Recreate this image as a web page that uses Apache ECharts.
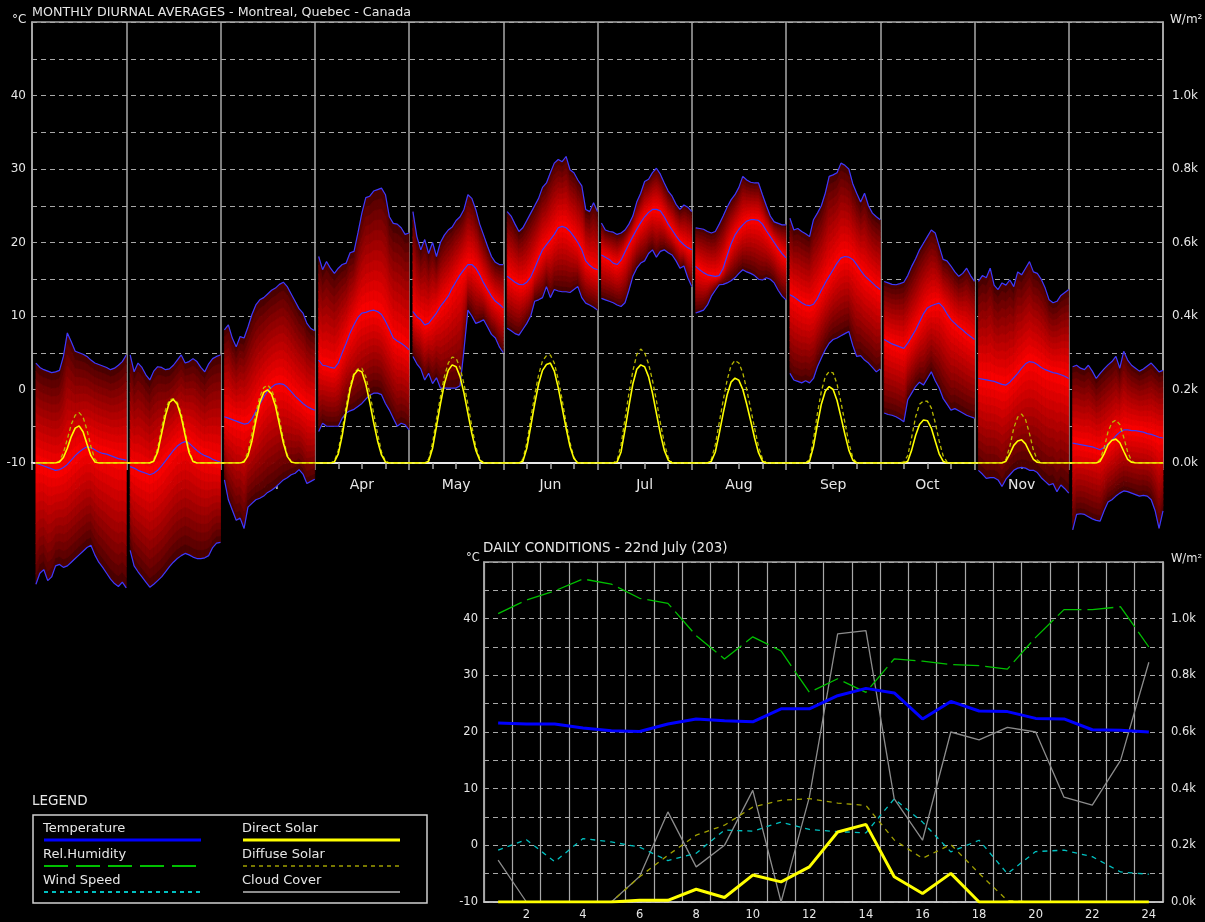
<!DOCTYPE html>
<html lang="en">
<head>
<meta charset="utf-8"/>
<title>Monthly diurnal averages - Montreal</title>
<script src="https://cdn.jsdelivr.net/npm/echarts@6/dist/echarts.min.js"></script>
<style>
    html, body { margin: 0; padding: 0; background: #000; }
    #chart { width: 1205px; height: 922px; }
</style>
</head>
<body>
<div id="chart"></div>
<script type="text/javascript">
    // monthly diurnal averages, hour 1..24 for each month (deg C)
    var monthNames = ['Jan', 'Feb', 'Mar', 'Apr', 'May', 'Jun', 'Jul', 'Aug', 'Sep', 'Oct', 'Nov', 'Dec'];

    var tempAvg = [
        [-10.0,-10.2,-10.4,-10.6,-10.8,-11.0,-10.9,-10.6,-10.2,-9.6,-9.0,-8.5,-8.1,-7.8,-7.9,-8.2,-8.5,-8.7,-8.8,-9.0,-9.2,-9.4,-9.5,-9.6],
        [-10.5,-10.7,-11.0,-11.2,-11.4,-11.6,-11.4,-11.0,-10.4,-9.7,-9.0,-8.3,-7.7,-7.3,-7.1,-7.3,-7.8,-8.3,-8.7,-9.0,-9.2,-9.5,-9.7,-9.9],
        [-3.7,-3.9,-4.1,-4.3,-4.5,-4.7,-4.6,-4.0,-3.0,-2.0,-1.0,-0.2,0.3,0.7,0.8,0.7,0.3,-0.3,-0.9,-1.4,-1.9,-2.3,-2.6,-2.8],
        [4.0,3.3,3.2,3.0,2.9,3.6,5.0,6.3,7.7,8.8,9.8,10.4,10.5,10.7,10.8,10.6,10.2,9.3,8.2,7.0,6.6,6.3,5.9,5.4],
        [10.6,9.9,9.5,8.8,9.0,9.7,10.4,11.3,12.0,12.7,13.8,14.7,15.6,16.3,17.0,17.0,16.5,15.6,14.5,13.6,12.7,12.0,11.6,11.1],
        [15.4,15.0,14.6,14.3,14.25,14.6,15.3,16.5,17.8,19.0,19.7,20.4,21.1,22.0,22.2,22.0,21.5,20.8,20.0,19.0,17.5,16.9,16.5,16.3],
        [18.3,18.0,17.7,17.2,17.0,17.6,18.7,19.8,20.8,21.8,22.7,23.5,24.1,24.5,24.5,24.3,23.5,22.5,21.7,20.9,20.2,19.7,19.3,19.0],
        [16.75,16.3,15.9,15.6,15.5,15.4,15.5,16.5,18.2,19.8,21.0,21.8,22.4,22.9,23.1,23.1,23.0,22.5,21.6,20.8,20.0,19.2,18.5,17.9],
        [12.9,12.6,12.2,11.8,11.5,11.4,11.6,12.4,13.5,14.5,15.4,16.3,17.2,17.9,18.1,18.0,17.7,17.0,16.2,15.5,15.0,14.5,14.0,13.6],
        [6.8,6.5,6.2,6.0,5.8,5.6,6.3,7.2,8.1,9.2,10.3,11.1,11.4,11.6,11.75,11.2,10.3,9.5,9.0,8.5,8.1,7.6,7.2,6.8],
        [1.5,1.4,1.3,1.2,1.1,0.9,0.7,0.6,1.0,1.6,2.2,2.9,3.5,3.8,3.7,3.4,3.0,2.7,2.5,2.3,2.2,2.0,1.8,1.5],
        [-7.3,-7.4,-7.5,-7.6,-7.7,-7.8,-8.0,-8.2,-7.9,-7.4,-6.9,-6.3,-5.8,-5.5,-5.5,-5.6,-5.6,-5.7,-5.8,-6.0,-6.1,-6.3,-6.5,-6.6]
    ];

    var tempMax = [
        [3.6,3.0,2.7,2.5,2.3,2.4,2.6,4.5,7.7,6.5,5.2,5.0,4.8,4.5,4.0,3.6,3.4,3.2,3.0,2.7,2.9,3.3,3.8,4.7],
        [4.7,2.4,3.6,3.0,2.0,1.3,2.5,3.1,3.0,2.7,2.8,3.3,4.0,4.7,3.6,3.8,4.2,3.8,3.0,2.4,3.5,4.2,4.5,4.7],
        [8.1,8.8,7.0,5.8,7.2,7.0,8.5,10.2,11.5,12.2,12.5,13.0,13.5,13.8,14.3,14.6,14.0,13.0,12.0,11.0,10.4,9.0,8.3,8.0],
        [18.1,16.3,17.4,16.5,15.8,16.5,17.0,17.2,18.6,18.8,21.3,24.0,26.1,26.3,27.0,27.2,27.4,26.5,23.5,22.6,22.5,22.0,21.1,21.3],
        [24.2,20.8,19.0,20.4,18.5,20.0,18.1,20.0,21.0,21.7,22.1,23.0,23.5,24.5,26.5,26.0,24.5,22.5,21.0,19.5,18.1,17.3,17.0,17.0],
        [24.2,23.6,22.5,21.5,22.0,23.0,24.0,25.0,26.0,27.5,28.1,29.5,30.8,31.3,31.0,31.7,29.9,29.5,28.5,27.7,24.5,24.2,25.4,24.2],
        [22.65,21.7,21.5,21.4,21.1,21.3,21.7,22.5,23.6,25.5,26.7,28.3,28.6,29.5,30.1,29.3,28.1,27.0,26.3,25.2,24.5,25.1,24.8,24.2],
        [22.0,21.9,21.8,21.5,21.3,21.5,22.5,23.6,24.8,25.8,26.5,27.5,29.0,28.5,28.2,28.1,28.1,26.5,25.0,23.6,22.8,22.6,22.4,22.4],
        [23.3,21.7,21.9,21.5,21.2,20.8,23.1,24.0,25.0,26.7,29.0,29.2,29.5,30.8,30.5,30.0,28.0,26.7,25.5,26.7,25.0,24.0,23.5,23.1],
        [14.7,14.5,14.3,14.25,14.4,14.6,15.5,16.75,17.8,19.0,19.9,20.8,21.7,21.3,19.5,17.7,17.5,16.8,16.0,15.4,15.8,16.5,15.5,14.7],
        [14.7,15.5,15.2,16.5,14.2,13.6,14.5,14.2,14.9,14.0,16.0,15.6,16.5,17.4,16.0,15.8,15.0,13.8,12.2,11.8,12.0,12.8,13.2,13.6],
        [3.1,3.3,2.9,2.7,3.3,2.5,1.5,2.2,2.8,3.35,3.8,4.5,2.9,5.2,4.0,3.3,2.9,2.5,2.8,3.2,3.6,3.0,2.4,2.6]
    ];

    var tempMin = [
        [-26.5,-25.0,-24.5,-26.0,-25.5,-24.0,-23.8,-24.2,-24.0,-23.5,-23.0,-22.5,-22.0,-21.5,-21.2,-22.5,-23.5,-24.2,-25.0,-25.8,-26.4,-26.8,-26.2,-27.0],
        [-21.9,-24.0,-24.8,-25.5,-26.2,-26.9,-26.5,-26.0,-25.5,-24.8,-24.1,-23.5,-23.0,-22.6,-22.3,-22.5,-22.8,-23.0,-23.0,-22.9,-22.6,-21.5,-20.9,-20.8],
        [-12.3,-15.0,-16.4,-17.8,-17.5,-18.9,-16.0,-15.5,-15.0,-14.8,-14.5,-14.0,-13.7,-13.3,-12.8,-12.3,-12.0,-11.6,-11.4,-10.9,-11.5,-12.8,-12.5,-12.2],
        [-5.7,-4.6,-5.0,-5.0,-5.0,-5.0,-3.9,-3.2,-2.9,-2.7,-2.3,-1.9,-1.3,-0.8,-0.5,-0.5,-0.7,-1.9,-2.8,-3.9,-5.0,-4.6,-4.8,-5.5],
        [4.5,3.5,2.8,1.3,2.2,0.8,1.6,0.2,0.2,0.2,0.2,0.2,0.5,5.4,10.8,10.0,9.0,9.2,9.5,8.5,7.5,7.0,5.8,5.0],
        [8.35,8.0,7.6,7.4,8.2,9.0,10.0,12.0,12.2,12.5,14.0,12.5,13.6,13.4,13.3,13.3,13.2,13.6,14.0,12.5,11.75,11.5,11.2,10.8],
        [12.4,12.2,12.0,11.8,11.5,11.3,11.8,13.5,15.4,16.5,17.2,17.5,18.5,19.0,18.0,18.8,19.0,18.6,18.3,17.5,16.5,16.8,15.2,14.0],
        [10.4,10.6,10.8,11.5,12.7,13.5,14.25,14.3,14.5,14.8,15.2,15.8,16.3,16.0,15.8,15.5,15.0,14.9,15.2,15.0,14.5,13.5,12.7,12.2],
        [2.2,1.3,1.1,0.9,1.2,0.9,1.5,3.1,4.3,5.4,6.3,6.8,7.0,7.3,7.6,7.9,6.0,4.5,4.6,4.0,3.6,3.0,2.4,2.8],
        [-3.2,-3.4,-3.5,-3.7,-4.0,-4.4,-1.4,-0.5,0.4,1.0,0.6,1.5,2.4,1.2,0.2,-1.2,-2.0,-2.8,-2.6,-2.9,-3.2,-3.5,-3.7,-3.9],
        [-11.0,-11.5,-12.1,-12.0,-12.0,-12.3,-13.2,-12.2,-11.6,-11.0,-10.7,-10.6,-10.7,-11.0,-11.0,-11.3,-12.0,-12.5,-13.0,-12.8,-13.9,-13.0,-13.5,-14.1],
        [-19.1,-17.0,-16.9,-17.0,-17.3,-17.6,-17.8,-17.9,-16.5,-15.3,-15.0,-14.5,-14.1,-13.8,-13.9,-14.1,-14.3,-14.5,-14.4,-14.5,-15.0,-16.5,-18.9,-16.5]
    ];

    // W/m2
    var solarDirect = [
        [0,0,0,0,0,0,3,15,40,72,95,101,85,52,20,3,0,0,0,0,0,0,0,0],
        [0,0,0,0,0,0,5,30,80,130,165,173,160,125,75,28,4,0,0,0,0,0,0,0],
        [0,0,0,0,0,3,20,60,115,165,192,199,188,155,105,55,18,3,0,0,0,0,0,0],
        [0,0,0,0,3,25,75,140,200,240,253,248,215,165,110,60,22,3,0,0,0,0,0,0],
        [0,0,0,0,5,40,100,160,215,252,267,262,235,190,135,80,35,8,0,0,0,0,0,0],
        [0,0,0,0,5,40,100,160,215,252,268,272,250,205,150,95,45,12,0,0,0,0,0,0],
        [0,0,0,0,3,30,90,155,215,255,267,262,235,190,135,80,35,8,0,0,0,0,0,0],
        [0,0,0,0,5,30,80,135,185,220,231,225,200,160,115,68,28,5,0,0,0,0,0,0],
        [0,0,0,0,0,5,45,105,160,195,208,200,170,125,78,35,8,0,0,0,0,0,0,0],
        [0,0,0,0,0,0,5,35,75,105,117,115,95,60,25,5,0,0,0,0,0,0,0,0],
        [0,0,0,0,0,0,0,5,25,48,60,63,52,30,10,2,0,0,0,0,0,0,0,0],
        [0,0,0,0,0,0,0,5,25,50,62,65,55,32,10,2,0,0,0,0,0,0,0,0]
    ];
    var solarDiffuse = [
        [0,0,0,0,0,0,5,28,65,105,130,137,125,90,45,10,0,0,0,0,0,0,0,0],
        [0,0,0,0,0,0,8,40,95,145,172,175,165,135,85,35,6,0,0,0,0,0,0,0],
        [0,0,0,0,0,5,30,80,135,180,205,212,200,170,120,65,22,4,0,0,0,0,0,0],
        [0,0,0,0,5,35,90,155,210,245,256,258,235,190,135,80,30,5,0,0,0,0,0,0],
        [0,0,0,0,10,55,120,180,235,272,288,285,260,215,160,100,45,12,0,0,0,0,0,0],
        [0,0,0,0,10,55,120,185,240,278,292,294,272,228,172,110,55,15,0,0,0,0,0,0],
        [0,0,0,0,8,50,120,190,250,295,310,300,270,225,170,110,55,15,0,0,0,0,0,0],
        [0,0,0,0,10,50,110,170,225,265,279,272,245,200,148,95,45,12,0,0,0,0,0,0],
        [0,0,0,0,0,10,65,135,195,235,249,245,215,165,110,55,15,0,0,0,0,0,0,0],
        [0,0,0,0,0,3,20,70,125,160,169,168,150,110,60,20,3,0,0,0,0,0,0,0],
        [0,0,0,0,0,0,0,10,45,95,125,133,118,80,35,8,0,0,0,0,0,0,0,0],
        [0,0,0,0,0,0,0,10,40,85,110,117,105,70,30,6,0,0,0,0,0,0,0,0]
    ];

    // daily conditions, 22nd July
    var dayHours = ['1','2','3','4','5','6','7','8','9','10','11','12','13','14','15','16','17','18','19','20','21','22','23','24'];
    var dayTemp = [21.6,21.4,21.4,20.7,20.2,20.1,21.4,22.3,22.0,21.8,24.1,24.1,26.4,27.7,26.9,22.3,25.4,23.7,23.6,22.4,22.3,20.4,20.3,20.0];
    var dayHumidity = [40.9,43.3,44.9,47.0,46.1,43.6,42.7,37.0,32.9,36.8,34.3,27.0,29.4,27.0,32.9,32.5,31.9,31.7,31.1,36.7,41.6,41.6,42.1,35.0];
    var dayWind = [-0.85,1.0,-2.9,1.2,0.6,-0.3,-2.7,-1.4,2.7,2.5,4.1,2.8,2.4,2.2,8.2,4.1,-1.15,0.9,-5.0,-1.1,-0.85,-2.0,-4.7,-5.1];
    var dayCloud = [-2.6,-10,-10,-10,-10,-5.5,5.9,-3.8,0.0,9.7,-10,8.5,37.3,37.9,8.2,0.9,20.0,18.6,20.8,20.0,8.5,7.1,15.0,32.3];
    var dayDirect = [0,0,0,0,0,6,6,45,16,95,71,124,247,274,89,30,101,0,0,0,0,0,0,0];
    var dayDiffuse = [0,0,0,0,0,89,165,236,271,335,359,365,349,341,219,154,203,101,5,0,0,0,0,0];

    var TXT = '#e6e6e6';
    var GRID_LINE = '#a8a8a8';
    var FONT = 'DejaVu Sans';

    // shades of red from the min/max edge towards the mean
    var STEPS = 12;
    var SHADES = [];
    for (var k = 0; k < STEPS; k++) {
        var f = (k + 0.5) / STEPS;
        SHADES.push('rgb(' + Math.round(62 + 193 * Math.pow(f, 0.85)) + ',0,0)');
    }

    // one item per hour segment: [x0, x1, min0, avg0, max0, min1, avg1, max1]
    var bandData = [];
    for (var m = 0; m < 12; m++) {
        for (var h = 0; h < 23; h++) {
            bandData.push([m * 24 + h + 1, m * 24 + h + 2,
                tempMin[m][h], tempAvg[m][h], tempMax[m][h],
                tempMin[m][h + 1], tempAvg[m][h + 1], tempMax[m][h + 1]]);
        }
    }

    function renderBand(params, api) {
        var xa = api.value(0), xb = api.value(1);
        var mid = [api.value(3), api.value(6)];
        var edges = [[api.value(2), api.value(5)], [api.value(4), api.value(7)]];
        var kids = [];
        for (var k = 0; k < STEPS; k++) {
            var f0 = k / STEPS, f1 = (k + 1) / STEPS;
            for (var e = 0; e < 2; e++) {
                var ed = edges[e];
                var pts = [
                    api.coord([xa, ed[0] + (mid[0] - ed[0]) * f0]),
                    api.coord([xb, ed[1] + (mid[1] - ed[1]) * f0]),
                    api.coord([xb, ed[1] + (mid[1] - ed[1]) * f1]),
                    api.coord([xa, ed[0] + (mid[0] - ed[0]) * f1])
                ];
                kids.push({
                    type: 'polygon',
                    shape: {points: pts},
                    style: {fill: SHADES[k], stroke: SHADES[k], lineWidth: 0.8}
                });
            }
        }
        return {type: 'group', children: kids};
    }

    // month lines, broken between months
    function monthLine(rows) {
        var out = [];
        for (var m = 0; m < rows.length; m++) {
            for (var h = 0; h < 24; h++) out.push([m * 24 + h + 1, rows[m][h]]);
            out.push([m * 24 + 24.5, '-']);
        }
        return out;
    }
    // solar runs continuously along the zero line
    function solarLine(rows) {
        var out = [];
        for (var m = 0; m < rows.length; m++) {
            for (var h = 0; h < 24; h++) out.push([m * 24 + h + 1, rows[m][h]]);
        }
        return out;
    }

    function degLabel(v) { return (v % 10 === 0 && v < 50) ? String(v) : ''; }
    function kLabel(v) { return (v % 200 === 0 && v < 1200) ? (v / 1000).toFixed(1) + 'k' : ''; }

    function legendItem(x, y, name, color, width, dash) {
        return [
            {type: 'text', left: x, top: y - 8, style: {text: name, fill: TXT, font: '13px "' + FONT + '"'}},
            {type: 'line', shape: {x1: x + 1, y1: y + 10, x2: x + 158, y2: y + 10},
             style: {stroke: color, lineWidth: width, lineDash: dash}}
        ];
    }

    var graphics = [
        {type: 'text', left: 32, top: 6, style: {text: 'MONTHLY DIURNAL AVERAGES - Montreal, Quebec - Canada', fill: TXT, font: '12.7px "' + FONT + '"'}},
        {type: 'text', left: 12, top: 14, style: {text: '°C', fill: TXT, font: '12px "' + FONT + '"'}},
        {type: 'text', left: 1170, top: 14, style: {text: 'W/m²', fill: TXT, font: '12px "' + FONT + '"'}},
        {type: 'text', left: 483, top: 541, style: {text: 'DAILY CONDITIONS - 22nd July (203)', fill: TXT, font: '13.5px "' + FONT + '"'}},
        {type: 'text', left: 466, top: 552, style: {text: '°C', fill: TXT, font: '11.5px "' + FONT + '"'}},
        {type: 'text', left: 1171, top: 553, style: {text: 'W/m²', fill: TXT, font: '11.5px "' + FONT + '"'}},
        {type: 'text', left: 32, top: 794, style: {text: 'LEGEND', fill: TXT, font: '13.5px "' + FONT + '"'}},
        {type: 'rect', shape: {x: 33, y: 815, width: 394, height: 88}, style: {fill: 'none', stroke: '#cfcfcf', lineWidth: 1.5}}
    ];
    graphics = graphics
        .concat(legendItem(43, 830, 'Temperature', '#0000ff', 3, null))
        .concat(legendItem(43, 856, 'Rel.Humidity', '#00c000', 2, [24, 8]))
        .concat(legendItem(43, 882, 'Wind Speed', '#00c0c0', 2, [4, 4]))
        .concat(legendItem(242, 830, 'Direct Solar', '#ffff00', 3, null))
        .concat(legendItem(242, 856, 'Diffuse Solar', '#a0a000', 1.5, [4, 4]))
        .concat(legendItem(242, 882, 'Cloud Cover', '#8c8c8c', 2, null));

    var axisText = {color: TXT, fontFamily: FONT, fontSize: 12};
    var dashed = {show: true, lineStyle: {color: GRID_LINE, width: 1, type: [5, 4]}};

    var option = {
        backgroundColor: '#000',
        animation: false,
        textStyle: {fontFamily: FONT},
        graphic: graphics,
        grid: [
            {left: 32, right: 42, top: 22, bottom: 459, show: true, borderColor: GRID_LINE, borderWidth: 1.5},
            {left: 484, right: 42, top: 562, bottom: 20, show: true, borderColor: GRID_LINE, borderWidth: 1.5}
        ],
        xAxis: [
            {
                type: 'value', gridIndex: 0, position: 'bottom', min: 0, max: 288, interval: 24,
                axisLine: {show: true, onZero: false, lineStyle: {color: '#e8e8e8', width: 2}},
                axisTick: {show: true, length: 7, lineStyle: {color: GRID_LINE, width: 1.5}},
                minorTick: {show: true, splitNumber: 4, length: 6, lineStyle: {color: GRID_LINE, width: 1.5}},
                axisLabel: {show: false},
                splitLine: {show: true, lineStyle: {color: GRID_LINE, width: 1.5}}
            },
            {
                type: 'category', gridIndex: 0, position: 'bottom', data: monthNames, boundaryGap: true,
                axisLine: {show: false, onZero: false}, axisTick: {show: false}, splitLine: {show: false},
                axisLabel: {color: TXT, fontFamily: FONT, fontSize: 14, margin: 15, interval: 0}
            },
            {
                type: 'category', gridIndex: 1, data: dayHours, boundaryGap: true,
                axisLine: {show: true, onZero: false, lineStyle: {color: '#d0d0d0', width: 1.5}},
                axisTick: {show: false},
                axisLabel: {color: TXT, fontFamily: FONT, fontSize: 11.5, margin: 7, interval: 0,
                    formatter: function (v) { return Number(v) % 2 === 0 ? v : ''; }},
                splitLine: {show: true, interval: 0, lineStyle: {color: GRID_LINE, width: 1.2}}
            }
        ],
        yAxis: [
            {
                type: 'value', gridIndex: 0, position: 'left', min: -10, max: 50, interval: 5,
                axisLine: {show: true, onZero: false, lineStyle: {color: GRID_LINE, width: 1.5}}, axisTick: {show: false},
                axisLabel: Object.assign({margin: 6, formatter: degLabel}, axisText),
                splitLine: dashed
            },
            {
                type: 'value', gridIndex: 0, position: 'right', min: 0, max: 1200, interval: 100,
                axisLine: {show: true, onZero: false, lineStyle: {color: GRID_LINE, width: 1.5}}, axisTick: {show: false},
                axisLabel: Object.assign({margin: 9, formatter: kLabel}, axisText),
                splitLine: {show: false}
            },
            {
                type: 'value', gridIndex: 1, position: 'left', min: -10, max: 50, interval: 5,
                axisLine: {show: true, onZero: false, lineStyle: {color: GRID_LINE, width: 1.5}}, axisTick: {show: false},
                axisLabel: {color: TXT, fontFamily: FONT, fontSize: 11.5, margin: 6, formatter: degLabel},
                splitLine: dashed
            },
            {
                type: 'value', gridIndex: 1, position: 'right', min: 0, max: 1200, interval: 100,
                axisLine: {show: true, onZero: false, lineStyle: {color: GRID_LINE, width: 1.5}}, axisTick: {show: false},
                axisLabel: {color: TXT, fontFamily: FONT, fontSize: 11.5, margin: 8, formatter: kLabel},
                splitLine: {show: false}
            }
        ],
        series: [
            {
                name: 'band', type: 'custom', xAxisIndex: 0, yAxisIndex: 0, z: 2, silent: true, clip: false,
                renderItem: renderBand, encode: {x: [0, 1], y: [2, 3, 4, 5, 6, 7]}, data: bandData
            },
            {
                name: 'min', type: 'line', xAxisIndex: 0, yAxisIndex: 0, z: 3, clip: false, symbol: 'none',
                connectNulls: false, lineStyle: {color: '#3a3aff', width: 1.2}, data: monthLine(tempMin)
            },
            {
                name: 'avg', type: 'line', xAxisIndex: 0, yAxisIndex: 0, z: 3, clip: false, symbol: 'none',
                connectNulls: false, lineStyle: {color: '#3a3aff', width: 1.2}, data: monthLine(tempAvg)
            },
            {
                name: 'max', type: 'line', xAxisIndex: 0, yAxisIndex: 0, z: 3, clip: false, symbol: 'none',
                connectNulls: false, lineStyle: {color: '#3a3aff', width: 1.2}, data: monthLine(tempMax)
            },
            {
                name: 'Diffuse Solar (month)', type: 'line', xAxisIndex: 0, yAxisIndex: 1, z: 4, symbol: 'none',
                lineStyle: {color: '#b8b800', width: 1.3, type: [4, 3]}, data: solarLine(solarDiffuse)
            },
            {
                name: 'Direct Solar (month)', type: 'line', xAxisIndex: 0, yAxisIndex: 1, z: 5, symbol: 'none',
                lineStyle: {color: '#ffff00', width: 1.6}, data: solarLine(solarDirect)
            },

            {
                name: 'Cloud Cover', type: 'line', xAxisIndex: 2, yAxisIndex: 2, symbol: 'none', z: 3,
                lineStyle: {color: '#8c8c8c', width: 1.3}, data: dayCloud
            },
            {
                name: 'Wind Speed', type: 'line', xAxisIndex: 2, yAxisIndex: 2, symbol: 'none', z: 3,
                lineStyle: {color: '#00c0c0', width: 1.3, type: [5, 5]}, data: dayWind
            },
            {
                name: 'Rel.Humidity', type: 'line', xAxisIndex: 2, yAxisIndex: 2, symbol: 'none', z: 3,
                lineStyle: {color: '#00c000', width: 1.3, type: [26, 6]}, data: dayHumidity
            },
            {
                name: 'Diffuse Solar', type: 'line', xAxisIndex: 2, yAxisIndex: 3, symbol: 'none', z: 3,
                lineStyle: {color: '#a0a000', width: 1.3, type: [5, 5]}, data: dayDiffuse
            },
            {
                name: 'Direct Solar', type: 'line', xAxisIndex: 2, yAxisIndex: 3, symbol: 'none', z: 4,
                lineStyle: {color: '#ffff00', width: 3}, data: dayDirect
            },
            {
                name: 'Temperature', type: 'line', xAxisIndex: 2, yAxisIndex: 2, symbol: 'none', z: 4,
                lineStyle: {color: '#0000ff', width: 3}, data: dayTemp
            }
        ]
    };

    var myChart = echarts.init(document.getElementById('chart'));
    myChart.setOption(option);
</script>
</body>
</html>
